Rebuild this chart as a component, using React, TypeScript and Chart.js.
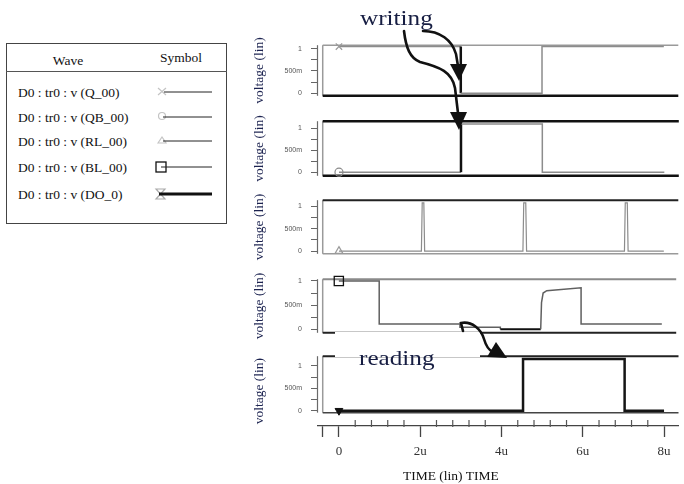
import React, { useEffect, useRef } from 'react';
import { Chart, registerables } from 'chart.js';

Chart.register(...registerables);
Chart.defaults.font.family = 'Liberation Serif';

// ---------------- data ----------------
const SIGNALS = ['Q_00', 'QB_00', 'RL_00', 'BL_00', 'DO_0'];

// [time in u, voltage]
const Q_00: number[][] = [[0, 1.05], [3, 1.05], [3, 0], [5, 0], [5, 1.05], [8, 1.05]];
const QB_00: number[][] = [[0, 0], [3, 0], [3, 1.1], [5, 1.1], [5, 0], [8, 0]];
const RL_00: number[][] = [
  [0, 0], [2.03, 0], [2.05, 1.08], [2.09, 1.08], [2.11, 0],
  [4.53, 0], [4.55, 1.08], [4.6, 1.08], [4.62, 0],
  [7.03, 0], [7.05, 1.08], [7.1, 1.08], [7.12, 0], [8, 0],
];
const BL_00: number[][] = [
  [0, 1.0], [1, 1.0], [1, 0.11], [3, 0.11], [3, 0.04], [4, 0.04], [4, 0], [5, 0],
  [5.02, 0.55], [5.06, 0.75], [5.15, 0.8], [6, 0.86], [6, 0.11], [8, 0.11],
];
const DO_0: number[][] = [[0, 0], [4.53, 0], [4.53, 1.15], [7.03, 1.15], [7.03, 0], [8, 0]];

const X_TICKS = [-0.4, 0, 0.4, 0.8, 1.2, 1.6, 2, 2.4, 2.8, 3.2, 3.6, 4, 4.4, 4.8, 5.2, 5.6, 6, 6.4, 6.8, 7.2, 7.6, 8];
const X_LABELS: Record<string, string> = { '0': '0', '2': '2u', '4': '4u', '6': '6u', '8': '8u' };
const Y_TICKS = [0, 0.25, 0.5, 0.75, 1];
const Y_LABELS: Record<string, string> = { '0': '0', '0.5': '500m', '1': '1' };
const Y_TITLE = 'voltage (lin)';
const X_TITLE = 'TIME (lin) TIME';
const LEGEND_HEAD = ['Wave', 'Symbol'];
const NOTE_WRITE = 'writing';
const NOTE_READ = 'reading';

// ---------------- layout ----------------
const X_MIN = -0.516;
const X_MAX = 8.356;
const FRAME_START = -0.4;
const CANVAS_LEFT = 250;
const CANVAS_W = 434;
const PAD = 10;
const AXIS_W = 68;
const XAXIS_H = 40;

type PanelSpec = {
  data: number[][];
  top: number; bottom: number; yMin: number; yMax: number; frameBottom: number;
  color: string; width: number;
  hl?: { x0: number; x1: number; color: string; width: number };
  marker: { style: any; r: number; color: string; fill: string; rot: number; bw: number };
  frame: { top: [string, number]; bottom: [string, number]; left: [string, number] };
};

const PANELS: PanelSpec[] = [
  {
    data: Q_00, top: 42, bottom: 99, yMin: -0.06, yMax: 1.08, frameBottom: -0.06,
    color: '#8c8c8c', width: 1.5, hl: { x0: 3, x1: 3, color: '#111', width: 2.5 },
    marker: { style: 'crossRot', r: 4.5, color: '#9a9a9a', fill: 'rgba(0,0,0,0)', rot: 0, bw: 1.2 },
    frame: { top: ['#9a9a9a', 1.5], bottom: ['#111', 2.5], left: ['#9a9a9a', 1.5] },
  },
  {
    data: QB_00, top: 118, bottom: 179, yMin: -0.082, yMax: 1.163, frameBottom: -0.082,
    color: '#8c8c8c', width: 1.5, hl: { x0: 3, x1: 3, color: '#111', width: 2.5 },
    marker: { style: 'circle', r: 4, color: '#8a8a8a', fill: 'rgba(0,0,0,0)', rot: 0, bw: 1.2 },
    frame: { top: ['#111', 2.5], bottom: ['#111', 2.5], left: ['#9a9a9a', 1.5] },
  },
  {
    data: RL_00, top: 197, bottom: 257, yMin: -0.06, yMax: 1.14, frameBottom: -0.06,
    color: '#8c8c8c', width: 1.2,
    marker: { style: 'triangle', r: 4.5, color: '#9a9a9a', fill: 'rgba(0,0,0,0)', rot: 0, bw: 1.2 },
    frame: { top: ['#222', 2], bottom: ['#9a9a9a', 1.5], left: ['#9a9a9a', 1.5] },
  },
  {
    data: BL_00, top: 276, bottom: 336, yMin: -0.074, yMax: 1.037, frameBottom: -0.074,
    color: '#606060', width: 1.5, hl: { x0: 4, x1: 5, color: '#111', width: 1.8 },
    marker: { style: 'rect', r: 6.5, color: '#111', fill: 'rgba(0,0,0,0)', rot: 0, bw: 1.3 },
    frame: { top: ['#8a8a8a', 2], bottom: ['#222', 2], left: ['#9a9a9a', 1.5] },
  },
  {
    data: DO_0, top: 353, bottom: 426, yMin: -0.34, yMax: 1.213, frameBottom: -0.043,
    color: '#151515', width: 2.5,
    marker: { style: 'triangle', r: 4.5, color: '#111', fill: '#111', rot: 180, bw: 1 },
    frame: { top: ['#222', 2], bottom: ['#444', 1.5], left: ['#9a9a9a', 1.5] },
  },
];

const isMajor = (v: number) => X_LABELS[String(v)] !== undefined || v === X_TICKS[0];

const framePlugin = {
  id: 'panelFrame',
  beforeDatasetsDraw(chart: any, _args: any, opts: any) {
    const { ctx, chartArea, scales } = chart;
    const xs = scales.x, ys = scales.y;
    const left = xs.getPixelForValue(FRAME_START);
    const top = chartArea.top;
    const bottom = ys.getPixelForValue(opts.frameBottom);
    const right = chartArea.right;
    const seg = (x1: number, y1: number, x2: number, y2: number, c: string, w: number) => {
      ctx.beginPath();
      ctx.strokeStyle = c;
      ctx.lineWidth = w;
      ctx.moveTo(x1, y1);
      ctx.lineTo(x2, y2);
      ctx.stroke();
    };
    ctx.save();
    seg(chartArea.left - 0.5, top, chartArea.left - 0.5, bottom, '#6a6a6a', 1.2);
    seg(left, top, left, bottom, opts.frame.left[0], opts.frame.left[1]);
    seg(left, top, right, top, opts.frame.top[0], opts.frame.top[1]);
    seg(left, bottom, right, bottom, opts.frame.bottom[0], opts.frame.bottom[1]);
    ctx.restore();
  },
  afterDraw(chart: any, _args: any, opts: any) {
    if (!opts.minorTicks) return;
    const { ctx, chartArea, scales } = chart;
    ctx.save();
    ctx.strokeStyle = '#555';
    ctx.lineWidth = 1.2;
    for (const t of scales.x.ticks) {
      if (isMajor(t.value)) continue;
      const px = scales.x.getPixelForValue(t.value);
      ctx.beginPath();
      ctx.moveTo(px, chartArea.bottom - 6);
      ctx.lineTo(px, chartArea.bottom + 1);
      ctx.stroke();
    }
    ctx.restore();
  },
};

function Panel({ spec, last }: { spec: PanelSpec; last: boolean }) {
  const ref = useRef<HTMLCanvasElement>(null);
  const h = spec.bottom - spec.top + 2 * PAD + (last ? XAXIS_H : 0);
  useEffect(() => {
    const hl = spec.hl;
    const chart = new Chart(ref.current as HTMLCanvasElement, {
      type: 'line',
      data: {
        datasets: [
          {
            data: spec.data.map(([x, y]) => ({ x, y })),
            borderColor: spec.color,
            borderWidth: spec.width,
            tension: 0,
            clip: false as any,
            pointRadius: (c: any) => (c.dataIndex === 0 ? spec.marker.r : 0),
            pointHoverRadius: 0,
            pointStyle: spec.marker.style,
            pointRotation: spec.marker.rot,
            pointBorderColor: spec.marker.color,
            pointBackgroundColor: spec.marker.fill,
            pointBorderWidth: spec.marker.bw,
            segment: hl
              ? {
                  borderColor: (c: any) =>
                    c.p0.parsed.x === hl.x0 && c.p1.parsed.x === hl.x1 ? hl.color : undefined,
                  borderWidth: (c: any) =>
                    c.p0.parsed.x === hl.x0 && c.p1.parsed.x === hl.x1 ? hl.width : undefined,
                }
              : undefined,
          } as any,
        ],
      },
      options: {
        animation: false,
        responsive: false,
        events: [],
        layout: { padding: { top: PAD, bottom: PAD, left: 0, right: 0 } },
        plugins: {
          legend: { display: false },
          tooltip: { enabled: false },
          panelFrame: { frameBottom: spec.frameBottom, frame: spec.frame, minorTicks: last },
        } as any,
        scales: {
          x: {
            type: 'linear',
            min: X_MIN,
            max: X_MAX,
            display: last,
            afterBuildTicks: (s: any) => {
              s.ticks = X_TICKS.map((v) => ({ value: v }));
            },
            afterFit: (s: any) => {
              s.height = last ? XAXIS_H : 0;
            },
            grid: {
              drawOnChartArea: false,
              drawTicks: true,
              tickLength: 11,
              tickWidth: 1.3,
              tickColor: (c: any) => (c.tick && isMajor(c.tick.value) ? '#444' : 'rgba(0,0,0,0)'),
            },
            border: { display: true, color: '#444', width: 1.3 },
            ticks: {
              autoSkip: false,
              maxRotation: 0,
              callback: (v: any) => X_LABELS[String(v)] ?? '',
              font: { family: 'Liberation Serif', size: 13 },
              color: '#333',
              padding: 7,
            },
          },
          y: {
            type: 'linear',
            min: spec.yMin,
            max: spec.yMax,
            afterBuildTicks: (s: any) => {
              s.ticks = Y_TICKS.map((v) => ({ value: v }));
            },
            afterFit: (s: any) => {
              s.width = AXIS_W;
            },
            grid: { drawOnChartArea: false, drawTicks: true, tickLength: 7, tickColor: '#666', tickWidth: 1 },
            border: { display: false },
            ticks: {
              autoSkip: false,
              callback: (v: any) => Y_LABELS[String(v)] ?? '',
              font: { family: 'Liberation Sans', size: 7 },
              color: '#555',
              padding: 9,
            },
            title: {
              display: true,
              text: Y_TITLE,
              font: { family: 'Liberation Serif', size: 13.5 },
              color: '#1c2350',
              padding: { top: 1, bottom: 0 },
            },
          },
        } as any,
      },
      plugins: [framePlugin as any],
    });
    return () => chart.destroy();
  }, []);
  return (
    <canvas
      ref={ref}
      width={CANVAS_W}
      height={h}
      style={{ position: 'absolute', left: CANVAS_LEFT, top: spec.top - PAD, width: CANVAS_W, height: h }}
    />
  );
}

const serif = "'Liberation Serif', 'Times New Roman', serif";
const ROW_Y = [92, 117, 141, 167, 194];

function Legend() {
  return (
    <div
      style={{
        position: 'absolute', left: 6, top: 43, width: 221, height: 181, boxSizing: 'border-box',
        border: '1px solid #444', background: '#fff', fontFamily: serif, color: '#111',
      }}
    >
      <div style={{ position: 'absolute', left: 31, top: 8, width: 60, textAlign: 'center', fontSize: 13.5, lineHeight: '18px' }}>
        {LEGEND_HEAD[0]}
      </div>
      <div style={{ position: 'absolute', left: 144, top: 5, width: 60, textAlign: 'center', fontSize: 13.5, lineHeight: '18px' }}>
        {LEGEND_HEAD[1]}
      </div>
      <div style={{ position: 'absolute', left: -1, top: 27, width: 221, height: 0, borderTop: '1.5px solid #555' }} />
      {SIGNALS.map((s, i) => (
        <div
          key={s}
          style={{ position: 'absolute', left: 11, top: ROW_Y[i] - 43 - 9, fontSize: 13.5, lineHeight: '18px', whiteSpace: 'nowrap' }}
        >
          {`D0 : tr0 : v (${s})`}
        </div>
      ))}
    </div>
  );
}

function Overlay() {
  return (
    <svg
      width={684}
      height={484}
      style={{ position: 'absolute', left: 0, top: 0, pointerEvents: 'none' }}
    >
      <g fill="none">
        <path d="M158,88 L166,95 M166,88 L158,95" stroke="#c4c4c4" strokeWidth={1.2} />
        <line x1={164} y1={92} x2={212} y2={92} stroke="#222" strokeWidth={1} />
        <circle cx={162} cy={116} r={3.5} stroke="#c4c4c4" strokeWidth={1.2} />
        <line x1={163} y1={117} x2={212} y2={117} stroke="#222" strokeWidth={1} />
        <path d="M158,143 L162,137 L166,143 Z" stroke="#c4c4c4" strokeWidth={1.2} />
        <line x1={163} y1={141} x2={212} y2={141} stroke="#222" strokeWidth={1} />
        <rect x={156} y={162} width={10} height={10} stroke="#111" strokeWidth={1.3} />
        <line x1={161} y1={167} x2={212} y2={167} stroke="#222" strokeWidth={1} />
        <path d="M156,189 L165,189 L156,199 L165,199 Z" stroke="#aaa" strokeWidth={1.2} />
        <line x1={159} y1={194} x2={212} y2={194} stroke="#111" strokeWidth={3} />
      </g>
      <g stroke="#111" strokeWidth={2.6} fill="none" strokeLinecap="round">
        <path d="M423,31 C440,31 452,40 456,54 L458,66" />
        <path d="M404,31 C406,48 410,58 420,62 C440,67 452,72 455,88 L458,113" />
        <path d="M463,331 L461,323 C472,321 481,329 484,339 C486,346 488,350 493,352" />
      </g>
      <g fill="#111">
        <polygon points="450,64 467,64 459,81" />
        <polygon points="450,112 467,112 459,130" />
        <polygon points="496,342 507,358 487,357" />
      </g>
    </svg>
  );
}

export default function App() {
  return (
    <div
      style={{
        position: 'absolute', left: 0, top: 0, width: 684, height: 484, overflow: 'hidden',
        background: '#fff', fontFamily: serif,
      }}
    >
      <Legend />
      {PANELS.map((p, i) => (
        <Panel key={SIGNALS[i]} spec={p} last={i === PANELS.length - 1} />
      ))}
      <div style={{ position: 'absolute', left: 335, top: 332, width: 145, height: 25, background: '#fff' }} />
      <Overlay />
      <div
        style={{
          position: 'absolute', left: 360, top: 6, fontSize: 21, lineHeight: '24px', color: '#161d42',
          transform: 'scaleX(1.2)', transformOrigin: 'left top', whiteSpace: 'nowrap',
        }}
      >
        {NOTE_WRITE}
      </div>
      <div
        style={{
          position: 'absolute', left: 359, top: 346, fontSize: 21, lineHeight: '24px', color: '#161d42',
          transform: 'scaleX(1.2)', transformOrigin: 'left top', whiteSpace: 'nowrap',
        }}
      >
        {NOTE_READ}
      </div>
      <div
        style={{
          position: 'absolute', left: 403, top: 467, fontSize: 13.5, lineHeight: '18px', color: '#111',
          whiteSpace: 'nowrap',
        }}
      >
        {X_TITLE}
      </div>
    </div>
  );
}
